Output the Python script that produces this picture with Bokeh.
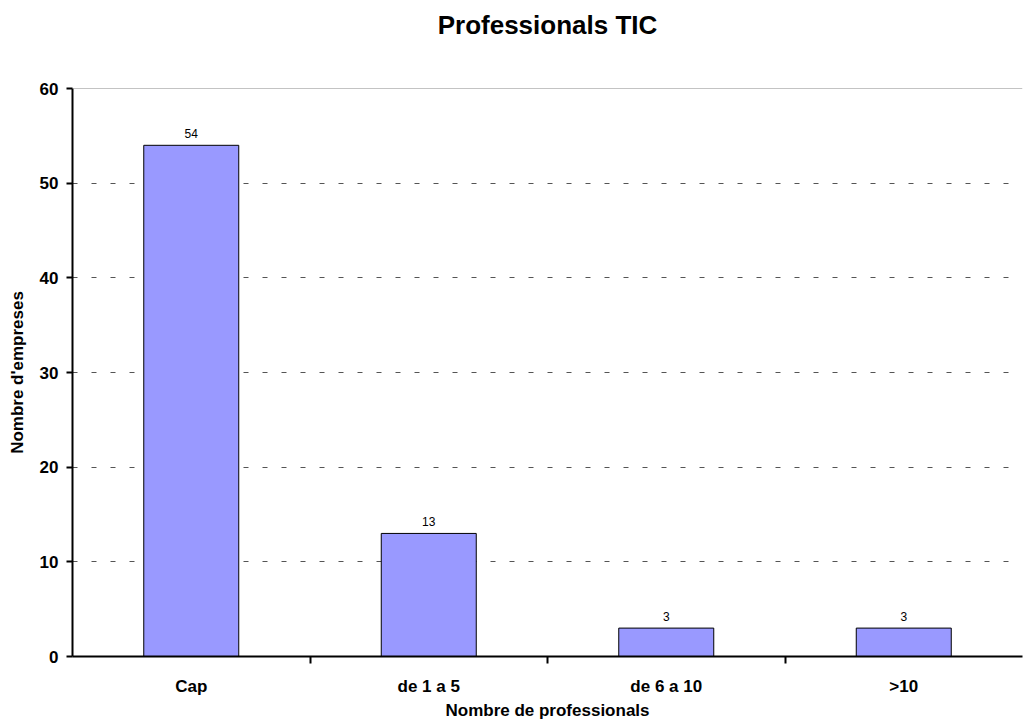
from bokeh.plotting import figure
from bokeh.models import ColumnDataSource, FixedTicker, Range1d, Span, LabelSet, Title
from bokeh.core.properties import value
from bokeh.embed import file_html
from bokeh.resources import INLINE

categories = ["Cap", "de 1 a 5", "de 6 a 10", ">10"]
values = [54, 13, 3, 3]
y_ticks = [0, 10, 20, 30, 40, 50, 60]

xs = [i + 0.5 for i in range(len(categories))]
source = ColumnDataSource(dict(x=xs, top=values, lab=[str(v) for v in values]))

FONT = "Liberation Sans"

p = figure(width=1023, height=722, output_backend="svg", toolbar_location=None,
           x_range=Range1d(0, len(categories)), y_range=Range1d(0, 60),
           title="Professionals TIC", min_border_left=72, min_border_right=1,
           min_border_top=88, min_border_bottom=66)
p.title.text_font = FONT
p.title.text_font_size = "26px"
p.title.text_font_style = "bold"
p.title.text_color = "black"
p.title.align = "center"
p.title.offset = 0
p.title.standoff = 10
p.add_layout(Title(text=" ", text_font_size="10px", standoff=31), "above")
p.outline_line_color = None

p.vbar(x="x", top="top", width=0.4, bottom=0, source=source,
       fill_color="#9999FF", line_color="black", line_width=1)

labels = LabelSet(x="x", y="top", text="lab", source=source, text_align="center",
                  text_baseline="bottom", y_offset=7, text_font=value(FONT),
                  text_font_size=value("12px"), text_color="black")
p.add_layout(labels)

# x axis
p.xaxis.ticker = FixedTicker(ticks=xs, minor_ticks=list(range(1, len(categories))))
p.xaxis.major_label_overrides = {x: c for x, c in zip(xs, categories)}
p.xaxis.major_tick_out = 0
p.xaxis.major_tick_in = 0
p.xaxis.minor_tick_out = 7
p.xaxis.minor_tick_in = 0
p.xaxis.minor_tick_line_color = "black"
p.xaxis.minor_tick_line_width = 2
p.xaxis.axis_line_width = 2
p.xaxis.axis_line_color = "black"
p.xaxis.major_label_text_font = FONT
p.xaxis.major_label_text_font_style = "bold"
p.xaxis.major_label_text_font_size = "17px"
p.xaxis.major_label_text_color = "black"
p.xaxis.major_label_standoff = 13
p.xaxis.axis_label = "Nombre de professionals"
p.xaxis.axis_label_text_font = FONT
p.xaxis.axis_label_text_font_style = "bold"
p.xaxis.axis_label_text_font_size = "17px"
p.xaxis.axis_label_text_color = "black"
p.xaxis.axis_label_standoff = 2

# y axis
p.yaxis.ticker = FixedTicker(ticks=y_ticks)
p.yaxis.minor_tick_line_color = None
p.yaxis.major_tick_out = 6
p.yaxis.major_tick_in = 0
p.yaxis.major_tick_line_width = 2
p.yaxis.axis_line_width = 2
p.yaxis.axis_line_color = "black"
p.yaxis.major_label_text_font = FONT
p.yaxis.major_label_text_font_style = "bold"
p.yaxis.major_label_text_font_size = "17px"
p.yaxis.major_label_text_color = "black"
p.yaxis.major_label_standoff = 8
p.yaxis.axis_label = "Nombre d'empreses"
p.yaxis.axis_label_text_font = FONT
p.yaxis.axis_label_text_font_style = "bold"
p.yaxis.axis_label_text_font_size = "17px"
p.yaxis.axis_label_text_color = "black"
p.yaxis.axis_label_standoff = 10

p.xgrid.grid_line_color = None
p.ygrid.grid_line_color = "#555555"
p.ygrid.grid_line_dash = "5 14"
p.ygrid.grid_line_width = 1

p.add_layout(Span(location=60, dimension="width", line_color="#888888", line_width=1))

open("out.html", "w").write(file_html(p, INLINE))
